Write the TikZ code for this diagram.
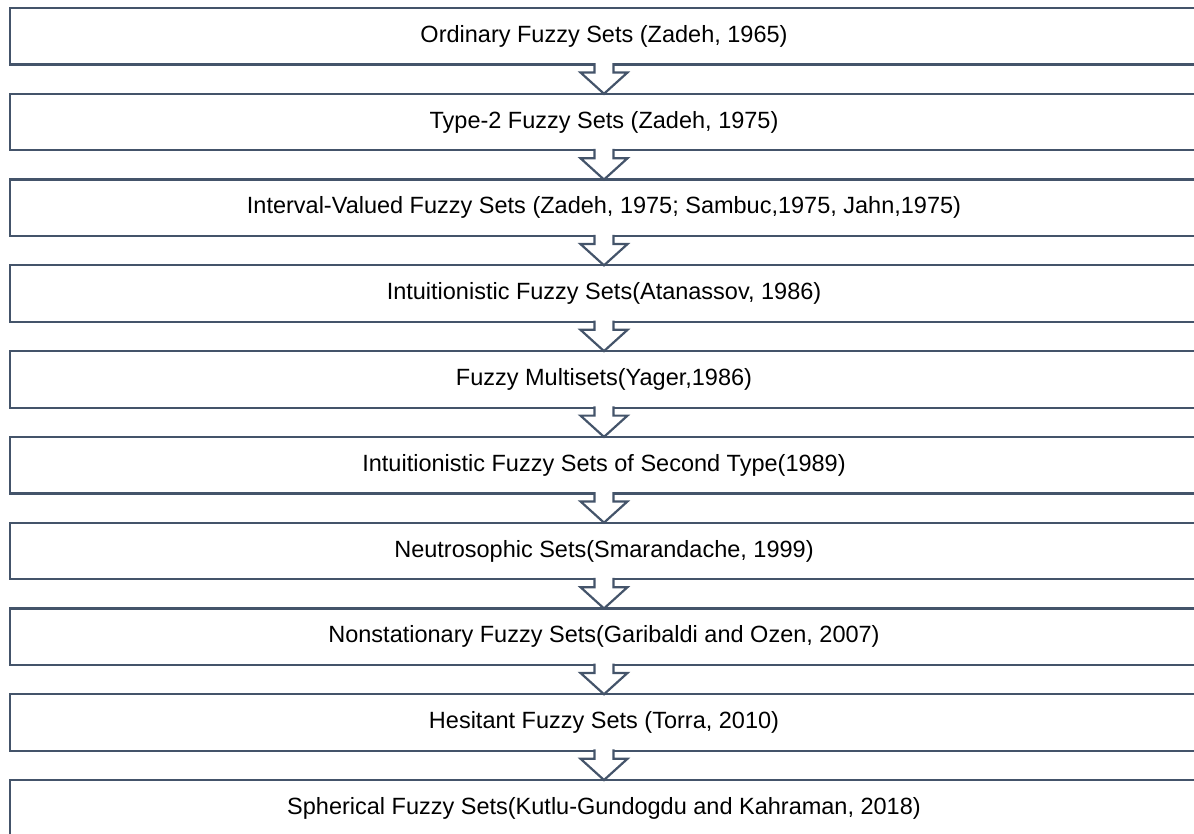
\documentclass[tikz,border=0pt]{standalone}
\usepackage{fontspec}
\setmainfont{Liberation Sans}
\usetikzlibrary{calc}
\definecolor{slateline}{HTML}{44546A}

\begin{document}
\begin{tikzpicture}[
    x=1pt, y=-1pt,
    font=\fontsize{23.5}{28}\selectfont,
    stage/.style={draw=slateline, line width=2.2pt, fill=white, minimum width=1188pt,
      minimum height=56.5pt, inner sep=0pt, outer sep=0pt},
    blockarrow/.style={draw=slateline, line width=2.2pt, fill=white, line join=miter},
  ]

  % Page size of the reference picture.
  \useasboundingbox (0,0) rectangle (1194,834);

  % One box per generalisation, top to bottom.
  \foreach \txt [count=\i] in {
      {Ordinary Fuzzy Sets (Zadeh, 1965)},
      {Type-2 Fuzzy Sets (Zadeh, 1975)},
      {Interval-Valued Fuzzy Sets (Zadeh, 1975; Sambuc,1975, Jahn,1975)},
      {Intuitionistic Fuzzy Sets(Atanassov, 1986)},
      {Fuzzy Multisets(Yager,1986)},
      {Intuitionistic Fuzzy Sets of Second Type(1989)},
      {Neutrosophic Sets(Smarandache, 1999)},
      {Nonstationary Fuzzy Sets(Garibaldi and Ozen, 2007)},
      {Hesitant Fuzzy Sets (Torra, 2010)},
      {Spherical Fuzzy Sets(Kutlu-Gundogdu and Kahraman, 2018)}}
    \node[stage] (b\i) at (604,{36.25+85.78*(\i-1)}) {\txt};

  % Hollow block arrows from each box down to the next one.
  \foreach \i [evaluate=\i as \j using int(\i+1)] in {1,...,9}
    \draw[blockarrow]
      ($(b\i.south)+(-9.5,-1.3)$) -- ($(b\i.south)+(-9.5,8)$)
      -- ($(b\i.south)+(-23.5,8)$) -- (b\j.north)
      -- ($(b\i.south)+(23.5,8)$) -- ($(b\i.south)+(9.5,8)$)
      -- ($(b\i.south)+(9.5,-1.3)$);
\end{tikzpicture}
\end{document}
